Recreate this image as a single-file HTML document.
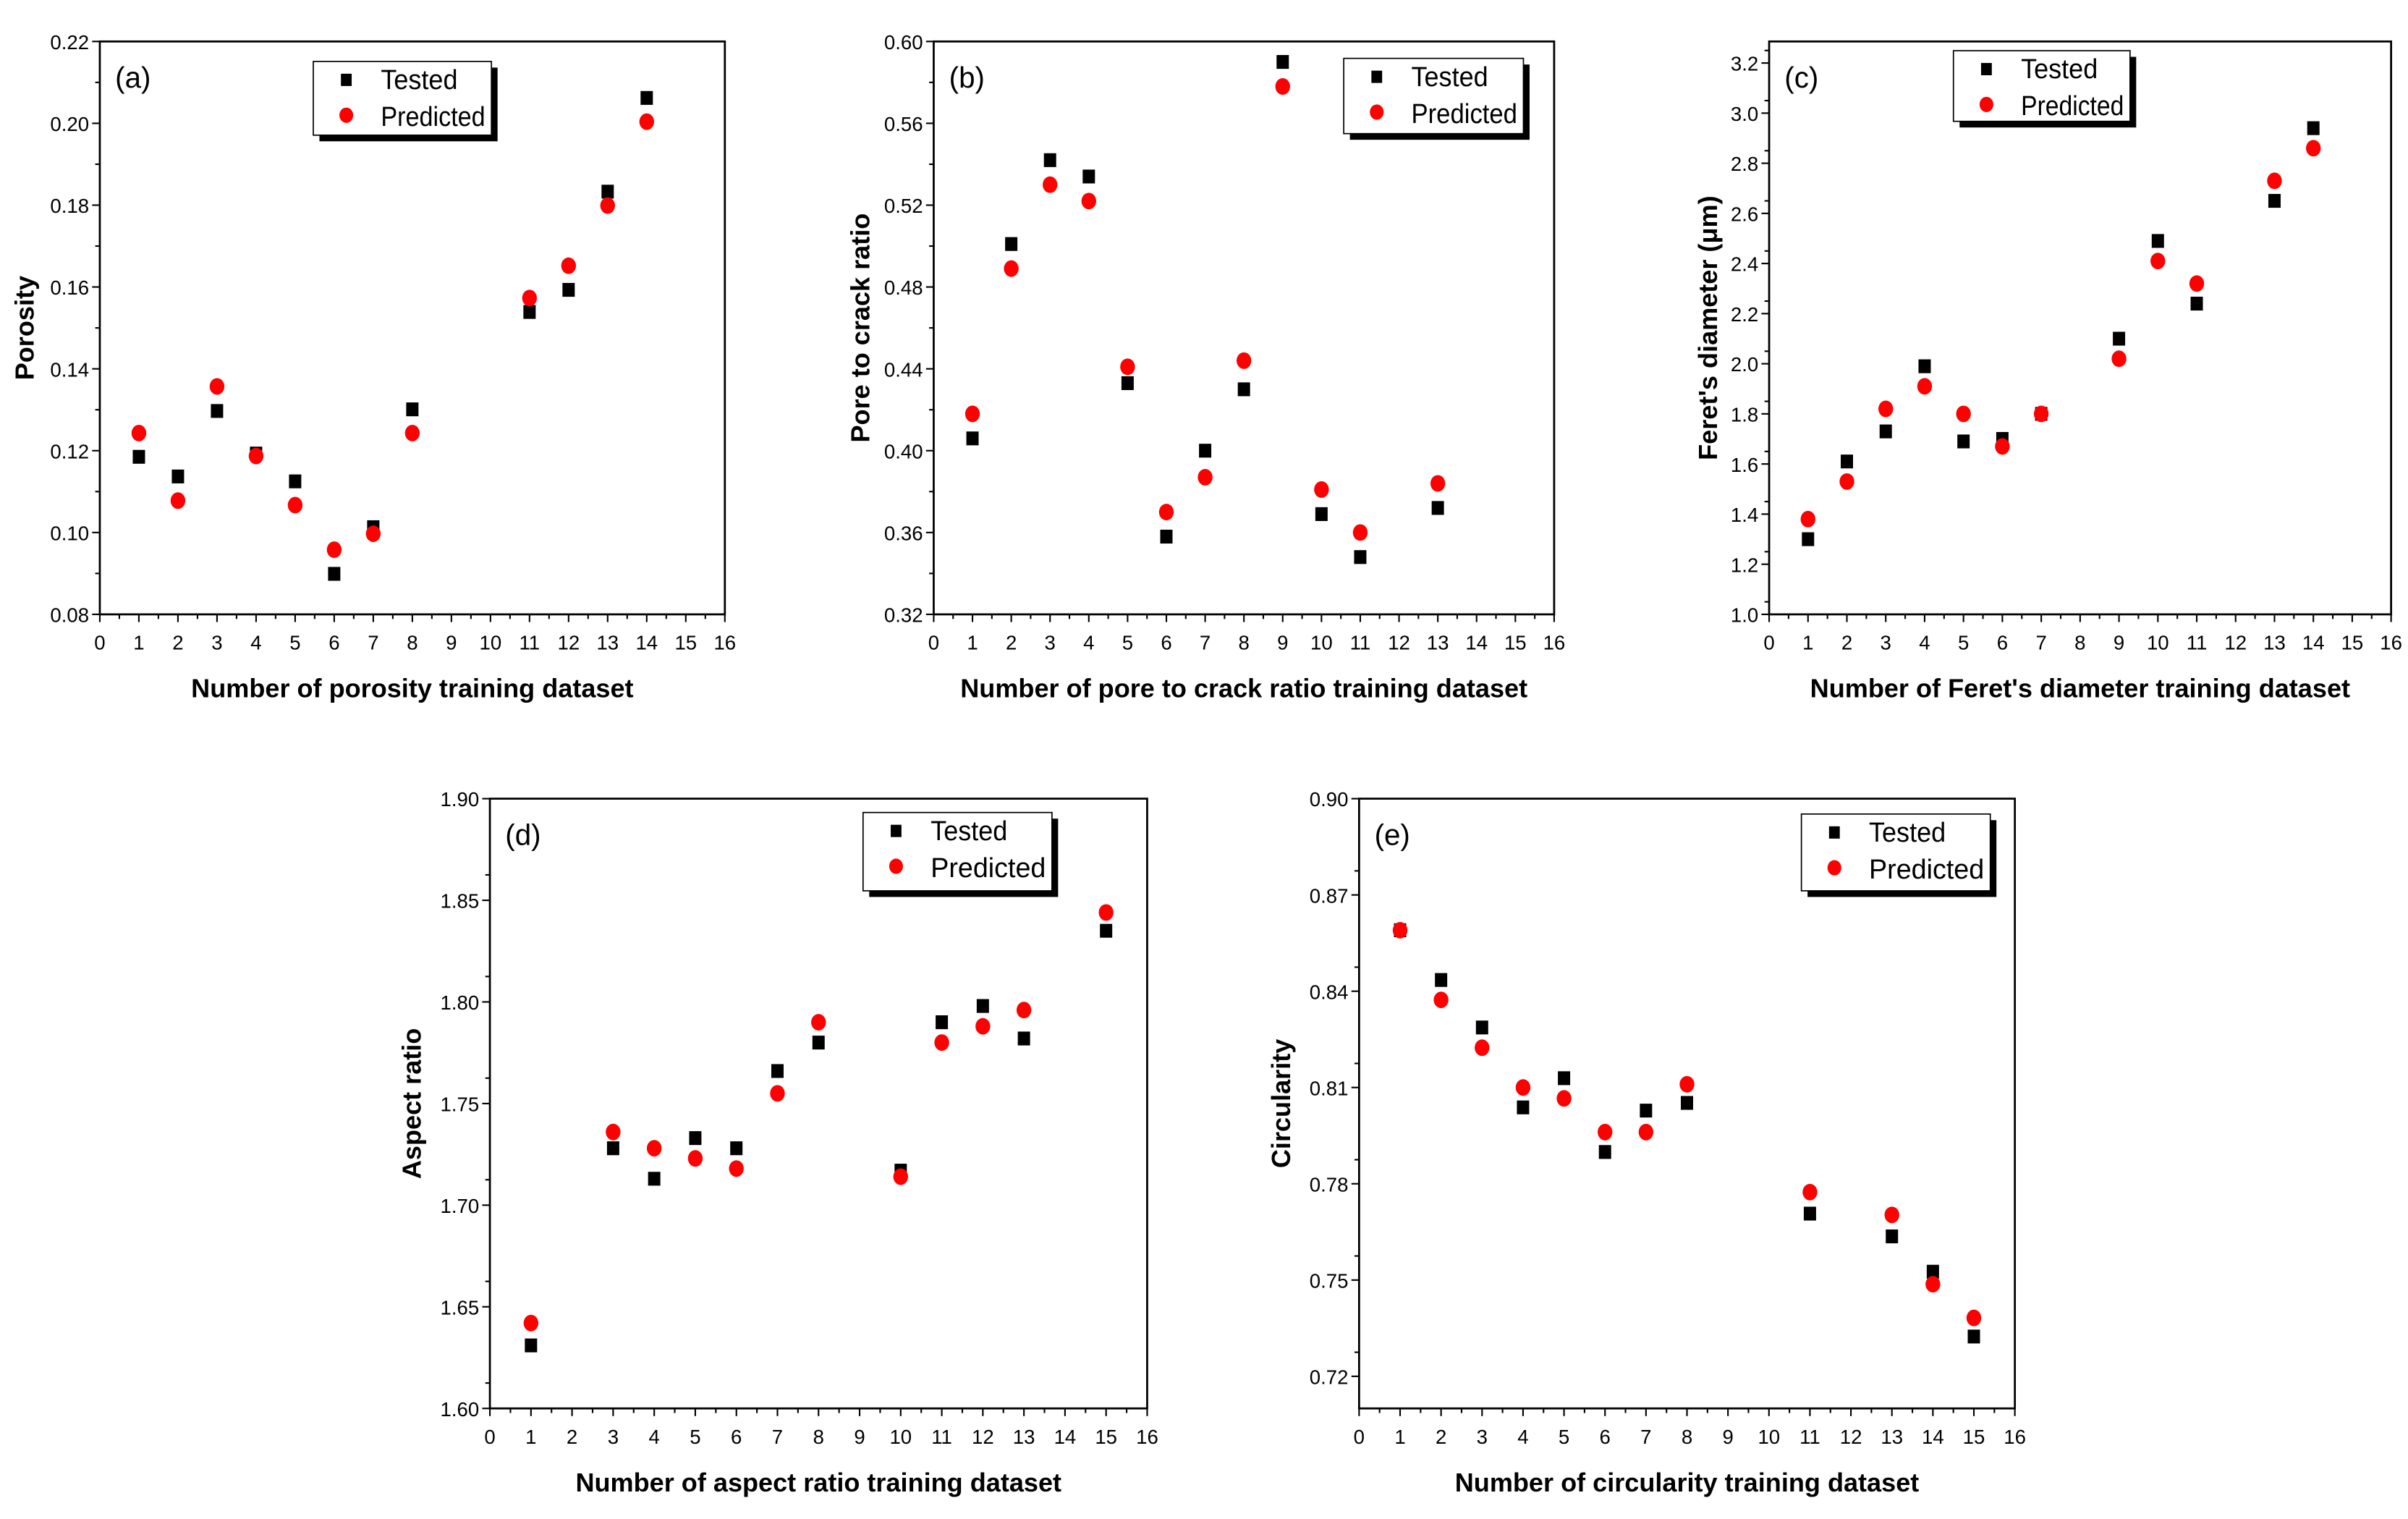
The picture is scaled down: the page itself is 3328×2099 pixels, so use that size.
<!DOCTYPE html>
<html><head><meta charset="utf-8"><style>
html,body{margin:0;padding:0;background:#fff;}
svg{display:block;}
text{font-family:"Liberation Sans Narrow","Liberation Sans",sans-serif;}
</style></head><body>
<svg id="fig" width="3328" height="2099" viewBox="0 0 1568 989" preserveAspectRatio="none" xmlns="http://www.w3.org/2000/svg"></svg>
<script>
// ---- data ----
const aX = [1,2,3,4,5,6,7,8,11,12,13,14];
const aTested = [0.1185,0.1137,0.1297,0.1193,0.1125,0.0899,0.1013,0.1301,0.1539,0.1593,0.1833,0.2062];
const aPred = [0.1243,0.1078,0.1357,0.1187,0.1067,0.0958,0.0997,0.1243,0.1573,0.1652,0.1799,0.2004];
const aTicks = ["0.08","0.10","0.12","0.14","0.16","0.18","0.20","0.22"];

const bX = [1,2,3,4,5,6,7,8,9,10,11,13];
const bTested = [0.406,0.501,0.542,0.534,0.433,0.358,0.400,0.430,0.590,0.369,0.348,0.372];
const bPred = [0.418,0.489,0.530,0.522,0.441,0.370,0.387,0.444,0.578,0.381,0.360,0.384];
const bTicks = ["0.32","0.36","0.40","0.44","0.48","0.52","0.56","0.60"];

const cX = [1,2,3,4,5,6,7,9,10,11,13,14];
const cTested = [1.30,1.61,1.73,1.99,1.69,1.70,1.80,2.10,2.49,2.24,2.65,2.94];
const cPred = [1.38,1.53,1.82,1.91,1.80,1.67,1.80,2.02,2.41,2.32,2.73,2.86];
const cTicks = ["1.0","1.2","1.4","1.6","1.8","2.0","2.2","2.4","2.6","2.8","3.0","3.2"];

const dX = [1,3,4,5,6,7,8,10,11,12,13,15];
const dTested = [1.631,1.728,1.713,1.733,1.728,1.766,1.780,1.717,1.790,1.798,1.782,1.835];
const dPred = [1.642,1.736,1.728,1.723,1.718,1.755,1.790,1.714,1.780,1.788,1.796,1.844];
const dTicks = ["1.60","1.65","1.70","1.75","1.80","1.85","1.90"];

const eX = [1,2,3,4,5,6,7,8,11,13,14,15];
const eTested = [0.859,0.8435,0.8287,0.8038,0.8129,0.7899,0.8028,0.8052,0.7707,0.7636,0.7526,0.7324];
const ePred = [0.859,0.8373,0.8224,0.810,0.8066,0.7961,0.7961,0.811,0.7774,0.7703,0.7487,0.7382];
const eTicks = ["0.72","0.75","0.78","0.81","0.84","0.87","0.90"];

const xTicks = ["0","1","2","3","4","5","6","7","8","9","10","11","12","13","14","15","16"];

const NS = "http://www.w3.org/2000/svg";
const svg = document.getElementById('fig');
function mk(tag, attrs, parent){
  const e = document.createElementNS(NS, tag);
  for (const k in attrs) e.setAttribute(k, attrs[k]);
  (parent||svg).appendChild(e);
  return e;
}

function panel(cfg){
  const g = mk('g', {});
  
  
  const {x0,x1,y0,y1,ymin,ymax} = cfg;
  const sx = v => x0 + (v - 0) / 16 * (x1 - x0);
  const sy = v => y1 - (v - ymin) / (ymax - ymin) * (y1 - y0);
  const frame = mk('rect', {x:x0, y:y0, width:x1-x0, height:y1-y0, fill:'none', stroke:'#000', 'stroke-width':1.3}, g);
  
  
  for (let i = 0; i < xTicks.length; i++) {
    const x = sx(i);
    mk('line', {x1:x, x2:x, y1:y1, y2:y1+5, stroke:'#000', 'stroke-width':1}, g);
    if (i < 16) { const xm = sx(i+0.5); mk('line', {x1:xm, x2:xm, y1:y1, y2:y1+3, stroke:'#000', 'stroke-width':1}, g); }
    const t = mk('text', {x:x, y:y1+23, 'font-size':13, 'text-anchor':'middle'}, g);
    t.textContent = xTicks[i];
    
    
  }
  const ticks = cfg.ticks;
  for (let i = 0; i < ticks.length; i++) {
    const v = parseFloat(ticks[i]);
    const y = sy(v);
    mk('line', {x1:x0-5, x2:x0, y1:y, y2:y, stroke:'#000', 'stroke-width':1}, g);
    const vm = v + cfg.step / 2;
    if (vm < ymax + 1e-9) { const ym = sy(vm); mk('line', {x1:x0-3, x2:x0, y1:ym, y2:ym, stroke:'#000', 'stroke-width':1}, g); }
    const t = mk('text', {x:x0-7, y:y+5, 'font-size':13, 'text-anchor':'end'}, g);
    t.textContent = ticks[i];
    
    
  }
  const xt = mk('text', {x:(x0+x1)/2, y:y1+54, 'font-size':17, 'font-weight':'bold', 'text-anchor':'middle'}, g);
  xt.textContent = cfg.xTitle;
  
  
  const yt = mk('text', {x:0, y:0, 'font-size':17, 'font-weight':'bold', 'text-anchor':'middle', transform:`translate(${cfg.ytx},${(y0+y1)/2}) rotate(-90)`, style:'font-family:"Liberation Sans",sans-serif'}, g);
  yt.textContent = cfg.yTitle;
  
  
  const pl = mk('text', {x:x0+10, y:y0+30, 'font-size':19}, g);
  pl.textContent = '(' + cfg.id + ')';
  
  
  for (let i = 0; i < cfg.xs.length; i++) {
    const s = mk('rect', {x:sx(cfg.xs[i])-4, y:sy(cfg.tested[i])-4.5, width:8, height:9, fill:'#000'}, g);
    
    
  }
  for (let i = 0; i < cfg.xs.length; i++) {
    const c = mk('ellipse', {cx:sx(cfg.xs[i]), cy:sy(cfg.pred[i]), rx:4.8, ry:5.4, fill:'#ff0000'}, g);
    
    
  }
  const L = cfg.leg;
  const lg = mk('g', {}, g);
  
  
  mk('rect', {x:L[0]+4, y:L[1]+4, width:L[2], height:L[3], fill:'#000'}, lg);
  mk('rect', {x:L[0], y:L[1], width:L[2], height:L[3], fill:'#fff', stroke:'#000', 'stroke-width':0.8}, lg);
  mk('rect', {x:L[0]+18, y:L[1]+8, width:7, height:8, fill:'#000'}, lg);
  mk('ellipse', {cx:L[0]+21.5, cy:L[1]+35, rx:4.5, ry:5, fill:'#ff0000'}, lg);
  const t1 = mk('text', {x:L[0]+44, y:L[1]+18, 'font-size':18, textLength:50, lengthAdjust:'spacingAndGlyphs'}, lg);
  t1.textContent = 'Tested';
  
  
  const t2 = mk('text', {x:L[0]+44, y:L[1]+42, 'font-size':18, textLength:L[2]-48, lengthAdjust:'spacingAndGlyphs'}, lg);
  t2.textContent = 'Predicted';
  
  
}

panel({id:'a', x0:65, x1:472, y0:27, y1:400, ymin:0.08, ymax:0.22, step:0.02, ticks:aTicks, xs:aX, tested:aTested, pred:aPred,
  xTitle:'Number of porosity training dataset', yTitle:'Porosity', ytx:22, leg:[204,40,116,48]});
panel({id:'b', x0:608, x1:1012, y0:27, y1:400, ymin:0.32, ymax:0.60, step:0.04, ticks:bTicks, xs:bX, tested:bTested, pred:bPred,
  xTitle:'Number of pore to crack ratio training dataset', yTitle:'Pore to crack ratio', ytx:566, leg:[875,38,117,49]});
panel({id:'c', x0:1152, x1:1557, y0:27, y1:400, ymin:1.0, ymax:3.286, step:0.1, ticks:cTicks, xs:cX, tested:cTested, pred:cPred,
  xTitle:"Number of Feret's diameter training dataset", yTitle:"Feret's diameter (μm)", ytx:1118, leg:[1272,33,115,46]});
panel({id:'d', x0:319, x1:747, y0:520, y1:917, ymin:1.60, ymax:1.90, step:0.025, ticks:dTicks, xs:dX, tested:dTested, pred:dPred,
  xTitle:'Number of aspect ratio training dataset', yTitle:'Aspect ratio', ytx:274, leg:[562,529,123,51]});
panel({id:'e', x0:885, x1:1312, y0:520, y1:917, ymin:0.71, ymax:0.90, step:0.015, ticks:eTicks, xs:eX, tested:eTested, pred:ePred,
  xTitle:'Number of circularity training dataset', yTitle:'Circularity', ytx:840, leg:[1173,530,123,50]});
</script>
</body></html>
